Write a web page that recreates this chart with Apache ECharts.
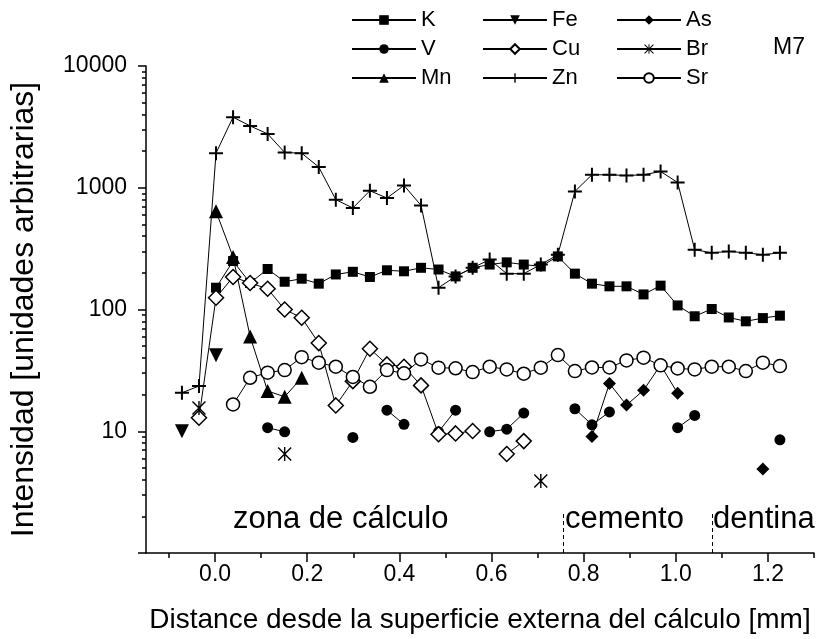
<!DOCTYPE html>
<html><head><meta charset="utf-8">
<script src="https://cdn.jsdelivr.net/npm/echarts@6/dist/echarts.min.js"></script>
<style>html,body{margin:0;padding:0;background:#fff}#c{width:819px;height:639px}</style>
</head><body><div id="c"></div>
<script>
// distance positions [mm]
const xPos = [-0.072,-0.035,0.002,0.039,0.076,0.114,0.151,0.188,0.225,0.262,0.299,0.336,0.373,0.410,0.447,0.485,0.522,0.559,0.596,0.633,0.670,0.707,0.744,0.781,0.818,0.856,0.893,0.930,0.967,1.004,1.041,1.078,1.115,1.152,1.189,1.226];
const K  = [null,null,151,250,165,215,169,179,163,194,204,185,210,206,220,213,187,220,234,244,234,226,273,197,163,155,155,133,157,108,88,101,86,80,85,89];
const V  = [null,null,null,null,null,10.7,9.9,null,null,null,8.9,null,14.9,11.4,null,9.9,14.9,null,9.9,10.4,14.1,null,null,15.3,11.3,14.4,null,null,null,10.7,13.5,null,null,null,null,8.5];
const Mn = [null,null,640,270,60,21.4,19.2,27.5,null,null,null,null,null,null,null,null,null,null,null,null,null,null,null,null,null,null,null,null,null,null,null,null,null,null,null,null];
const Fe = [10,null,42,null,null,null,null,null,null,null,null,null,null,null,null,null,null,null,null,null,null,null,null,null,null,null,null,null,null,null,null,null,null,null,null,null];
const Cu = [null,12.9,125,185,165,148,100,85.5,53,16.3,25.8,47.6,35.4,33.9,23.8,9.45,9.6,10.05,null,6.5,8.3,null,null,null,null,null,null,null,null,null,null,null,null,null,null,null];
const Zn = [20.7,23.5,1924,3800,3220,2770,1950,1920,1480,798,682,945,823,1045,716,151,187,220,257,197,197,234,282,933,1278,1278,1260,1278,1360,1105,310,292,300,292,282,292];
const As = [null,null,null,null,null,null,null,null,null,null,null,null,null,null,null,null,null,null,null,null,null,null,null,null,9.05,24.7,16.4,21.7,35,20.5,null,null,null,null,4.9,null];
const Br = [null,15.5,null,null,null,null,6.5,null,null,null,null,null,null,null,null,null,null,null,null,null,null,3.9,null,null,null,null,null,null,null,null,null,null,null,null,null,null];
const Sr = [null,null,null,16.6,27.5,30.3,31.8,40.6,36.6,33.9,27.9,23.2,31.8,29.9,38.9,33.3,32.9,30.6,33.9,32.2,29.7,33.3,42.2,31.2,33.4,33.4,38.2,40.2,34.8,32.8,32.2,33.9,33.9,31.2,36.6,34.3];

const xLabelValues = [0,0.2,0.4,0.6,0.8,1.0,1.2];
const xMinorTicks = [-0.1,0.1,0.3,0.5,0.7,0.9,1.1,1.3];
const yMajorTicks = [1,10,100,1000,10000];
const yShownLabels = [10,100,1000,10000];
const yMinorTicks = [2,3,4,5,6,7,8,9,20,30,40,50,60,70,80,90,200,300,400,500,600,700,800,900,2000,3000,4000,5000,6000,7000,8000,9000];
const zoneBoundaries = [0.755,1.08];
const zoneNames = ['zona de cálculo','cemento','dentina'];

const FONT = 'Liberation Sans, Arial, sans-serif';
const PLUS = 'path://M0,6 L14,6 L14,8 L0,8 Z M6,0 L8,0 L8,14 L6,14 Z';
const STAR = 'path://M6.3,0 L7.7,0 L7.7,14 L6.3,14 Z M0,1 L1,0 L14,13 L13,14 Z M13,0 L14,1 L1,14 L0,13 Z';

function pairs(arr){ return arr.map((v,i)=>[xPos[i], v==null ? '-' : v]); }
function mk(name, arr, symbol, size, filled, extra){
  return Object.assign({
    name, type:'line', data: pairs(arr), symbol, symbolSize:size, connectNulls:false,
    showAllSymbol:true, animation:false,
    lineStyle:{color:'#000', width:1},
    itemStyle: filled ? {color:'#000', borderColor:'#000', borderWidth:0} : {color:'#fff', borderColor:'#000', borderWidth:1.5},
    emphasis:{disabled:true}
  }, extra||{});
}

const series = [
  mk('K', K, 'rect', 10, true, {markLine:{silent:true, symbol:'none', label:{show:false}, lineStyle:{type:[4,3], color:'#000', width:1},
    data: zoneBoundaries.map(b=>[{coord:[b,1]},{coord:[b,2.2]}])}}),
  mk('V', V, 'circle', 11, true),
  mk('Mn', Mn, 'triangle', 14, true),
  mk('Fe', Fe, 'triangle', 14, true, {symbolRotate:180}),
  mk('Cu', Cu, 'diamond', 15, false),
  mk('Zn', Zn, PLUS, 14, true),
  mk('As', As, 'diamond', 13, true),
  mk('Br', Br, STAR, 14, true),
  mk('Sr', Sr, 'circle', 13, false)
];

const legendBase = {orient:'vertical', top:4, itemWidth:64, itemHeight:12, itemGap:7, selectedMode:false,
  textStyle:{fontSize:22, fontFamily:FONT, color:'#000', lineHeight:22}};

const chart = echarts.init(document.getElementById('c'), null, {renderer:'canvas'});
chart.setOption({
  backgroundColor:'#fff',
  animation:false,
  textStyle:{fontFamily:FONT},
  grid:{left:138, right:5, top:66, bottom:84, containLabel:false},
  legend:[
    Object.assign({}, legendBase, {left:346, data:['K','V','Mn']}),
    Object.assign({}, legendBase, {left:477, data:['Fe','Cu','Zn']}),
    Object.assign({}, legendBase, {left:611, data:['As','Br','Sr']})
  ],
  xAxis:[{
    type:'value', min:-0.15, max:1.3,
    name:'Distance desde la superficie externa del cálculo [mm]', nameLocation:'middle', nameGap:53,
    nameTextStyle:{fontSize:28, fontFamily:FONT, color:'#000'},
    axisLine:{onZero:false, lineStyle:{color:'#000', width:1.5}},
    axisTick:{customValues:xLabelValues, length:9, lineStyle:{color:'#000', width:1.5}},
    axisLabel:{customValues:xLabelValues, fontSize:23, fontFamily:FONT, color:'#000', margin:10, formatter:v=>v.toFixed(1)},
    splitLine:{show:false}
  },{
    type:'value', min:-0.15, max:1.3, position:'bottom',
    axisLine:{show:false, onZero:false},
    axisTick:{customValues:xMinorTicks, length:5, lineStyle:{color:'#000', width:1.5}},
    axisLabel:{show:false}, splitLine:{show:false}
  }],
  yAxis:[{
    type:'log', logBase:10, min:1, max:10000,
    name:'Intensidad [unidades arbitrarias]', nameLocation:'middle', nameGap:106,
    nameTextStyle:{fontSize:32, fontFamily:FONT, color:'#000'},
    axisLine:{onZero:false, lineStyle:{color:'#000', width:1.5}},
    axisTick:{customValues:yMajorTicks, length:8, lineStyle:{color:'#000', width:1.5}},
    axisLabel:{customValues:yShownLabels, fontSize:23, fontFamily:FONT, color:'#000', margin:19, formatter:v=>String(v)},
    splitLine:{show:false}
  },{
    type:'log', logBase:10, min:1, max:10000, position:'left',
    axisLine:{show:false, onZero:false},
    axisTick:{customValues:yMinorTicks, length:4, lineStyle:{color:'#000', width:1.5}},
    axisLabel:{show:false}, splitLine:{show:false}
  }],
  graphic:[
    {type:'text', left:773, top:36, style:{text:'M7', font:'23px '+FONT, fill:'#000'}},
    {type:'text', left:233, top:504, style:{text:zoneNames[0], font:'31px '+FONT, fill:'#000'}},
    {type:'text', left:565, top:504, style:{text:zoneNames[1], font:'31px '+FONT, fill:'#000'}},
    {type:'text', left:713, top:504, style:{text:zoneNames[2], font:'31px '+FONT, fill:'#000'}}
  ],
  series
});
</script></body></html>
